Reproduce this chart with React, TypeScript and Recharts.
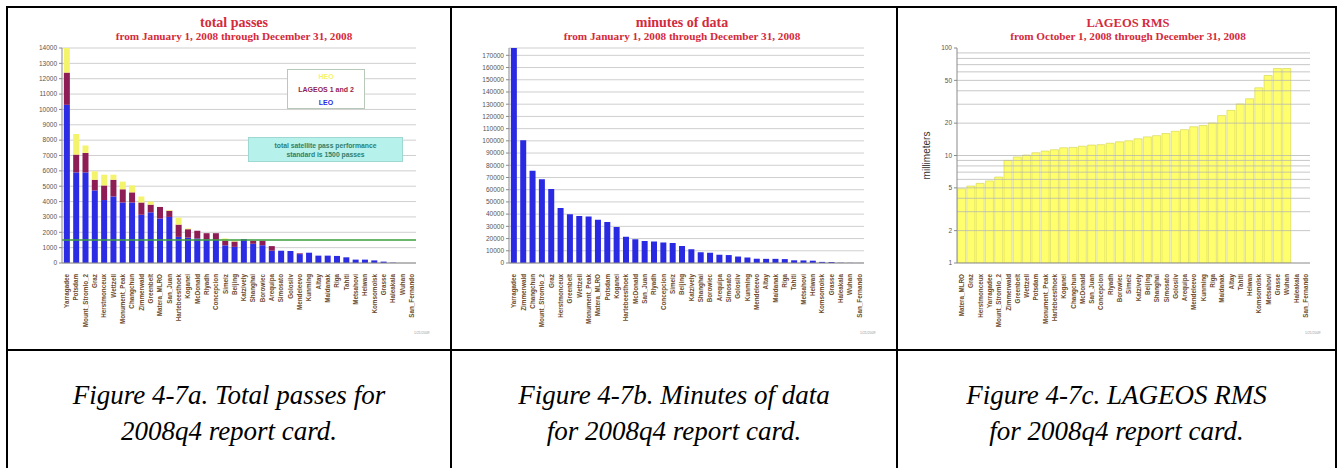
import React from "react";
import { BarChart, Bar, XAxis, YAxis, CartesianGrid, ReferenceLine, Legend } from "recharts";

// ---------- Figure 4-7a: total passes ----------
const passStations = [
  "Yarragadee", "Potsdam", "Mount_Stromlo_2", "Graz", "Herstmonceux", "Wettzell", "Monument_Peak", "Changchun",
  "Zimmerwald", "Greenbelt", "Matera_MLRO", "San_Juan", "Hartebeesthoek", "Koganei", "McDonald", "Riyadh",
  "Concepcion", "Simeiz", "Beijing", "Katzively", "Shanghai", "Borowiec", "Arequipa", "Simosato",
  "Golosiiv", "Mendeleevo", "Kunming", "Altay", "Maidanak", "Riga", "Tahiti", "Metsahovi",
  "Helwan", "Komsomolsk", "Grasse", "Haleakala", "Wuhan", "San_Fernando",
];
const leoPasses = [
  10300, 5900, 5900, 4730, 4100, 4330, 3940, 3940, 3140, 3300, 2900, 3000, 1700, 1650, 1600, 1550,
  1500, 1150, 1050, 1550, 1250, 1150, 800, 800, 780, 580, 670, 480, 480, 460, 370, 220,
  220, 170, 90, 20, 0, 0,
];
const lageosPasses = [
  2100, 1160, 1270, 690, 950, 1090, 860, 660, 800, 500, 750, 400, 800, 550, 500, 390,
  440, 300, 350, 0, 200, 300, 300, 0, 0, 50, 0, 0, 0, 0, 0, 0,
  0, 0, 0, 0, 0, 0,
];
const heoPasses = [
  1600, 1340, 480, 550, 700, 330, 500, 450, 390, 200, 0, 50, 450, 50, 0, 0,
  0, 150, 50, 0, 0, 0, 0, 0, 0, 0, 0, 0, 0, 0, 0, 0,
  0, 0, 0, 0, 0, 0,
];
const passTicks = [0, 1000, 2000, 3000, 4000, 5000, 6000, 7000, 8000, 9000, 10000, 11000, 12000, 13000, 14000];
const passStandard = 1500;
const passTitle = "total passes";
const passSubtitle = "from January 1, 2008 through December 31, 2008";
const passNoteLines = ["total satellite pass performance", "standard is 1500 passes"];

// ---------- Figure 4-7b: minutes of data ----------
const minuteStations = [
  "Yarragadee", "Zimmerwald", "Changchun", "Mount_Stromlo_2", "Graz", "Herstmonceux", "Greenbelt", "Wettzell",
  "Monument_Peak", "Matera_MLRO", "Potsdam", "Koganei", "Hartebeesthoek", "McDonald", "San_Juan", "Riyadh",
  "Concepcion", "Simeiz", "Beijing", "Katzively", "Shanghai", "Borowiec", "Arequipa", "Simosato",
  "Golosiiv", "Kunming", "Mendeleevo", "Altay", "Maidanak", "Riga", "Tahiti", "Metsahovi",
  "Helwan", "Komsomolsk", "Grasse", "Haleakala", "Wuhan", "San_Fernando",
];
const minutesOfData = [
  176000, 100500, 75600, 68500, 60500, 45000, 40000, 38500, 38000, 35500, 33500, 29500, 21500, 19500, 18000, 17500,
  16800, 16300, 14000, 11200, 8800, 8400, 6800, 6500, 5300, 4500, 3500, 3400, 3400, 3200, 2200, 2100,
  1900, 900, 800, 200, 100, 50,
];
const minuteTicks = [
  0, 10000, 20000, 30000, 40000, 50000, 60000, 70000, 80000, 90000, 100000, 110000, 120000, 130000, 140000,
  150000, 160000, 170000,
];
const minuteTitle = "minutes of data";
const minuteSubtitle = "from January 1, 2008 through December 31, 2008";

// ---------- Figure 4-7c: LAGEOS RMS ----------
const rmsStations = [
  "Matera_MLRO", "Graz", "Herstmonceux", "Yarragadee", "Mount_Stromlo_2", "Zimmerwald", "Greenbelt", "Wettzell",
  "Potsdam", "Monument_Peak", "Hartebeesthoek", "Koganei", "Changchun", "McDonald", "San_Juan", "Concepcion",
  "Riyadh", "Borowiec", "Simeiz", "Katzively", "Beijing", "Shanghai", "Simosato", "Golosiiv",
  "Arequipa", "Mendeleevo", "Kunming", "Riga", "Maidanak", "Altay", "Tahiti", "Helwan",
  "Komsomolsk", "Metsahovi", "Grasse", "Wuhan", "Haleakala", "San_Fernando",
];
const lageosRms = [
  4.9, 5.2, 5.5, 5.8, 6.3, 9.0, 9.7, 10.1, 10.6, 11.0, 11.3, 11.8, 11.9, 12.2, 12.5, 12.6,
  13.0, 13.4, 13.7, 14.3, 14.9, 15.3, 16.0, 16.8, 17.4, 18.5, 19.0, 20.1, 23.5, 26.3, 30.2, 33.7,
  42.6, 55.5, 64.5, 64.5, null, null,
];
const rmsTicks = [1, 2, 5, 10, 20, 50, 100];
const rmsGridValues = [2, 3, 4, 5, 6, 7, 8, 9, 10, 20, 30, 40, 50, 60, 70, 80, 90];
const rmsTitle = "LAGEOS RMS";
const rmsSubtitle = "from October 1, 2008 through December 31, 2008";

const captions = [
  ["Figure 4-7a. Total passes for", "2008q4 report card."],
  ["Figure 4-7b. Minutes of data", "for 2008q4 report card."],
  ["Figure 4-7c. LAGEOS RMS", "for 2008q4 report card."],
];

const passData = passStations.map((name, i) => ({
  name,
  leo: leoPasses[i],
  lageos: lageosPasses[i],
  heo: heoPasses[i],
}));
const minuteData = minuteStations.map((name, i) => ({ name, minutes: minutesOfData[i] }));
const rmsData = rmsStations.map((name, i) => ({ name, rms: lageosRms[i] }));

const TITLE_RED = "#d42a3c";
const AXIS_GRAY = "#8a8a8a";

const StationTick = (props: any) => {
  const { x, y, payload } = props;
  const ty = y + 3;
  return (
    <text
      x={x}
      y={ty}
      transform={`rotate(-90, ${x}, ${ty})`}
      textAnchor="end"
      dominantBaseline="central"
      fontSize={6.3}
      fontWeight="bold"
      fontFamily="Arial, 'Liberation Sans', sans-serif"
      fill="#6e4c2c"
    >
      {payload.value}
    </text>
  );
};

const yTickStyle = { fontSize: 6.5, fill: "#555", fontFamily: "Arial, 'Liberation Sans', sans-serif" };
const blank = () => "";
const legendOrder = ["HEO", "LAGEOS 1 and 2", "LEO"];

const PassLegend = (props: any) => {
  const payload = (props.payload || [])
    .slice()
    .sort((a: any, b: any) => legendOrder.indexOf(a.value) - legendOrder.indexOf(b.value));
  return (
    <div
      style={{
        width: 78,
        height: 40,
        background: "#fff",
        border: "1px solid #b9c9b9",
        boxSizing: "border-box",
        fontFamily: "Arial, 'Liberation Sans', sans-serif",
        fontWeight: "bold",
        fontSize: 7,
        textAlign: "center",
        paddingTop: 0,
      }}
    >
      {payload.map((p: any) => (
        <div key={p.value} style={{ color: p.color, height: 13, lineHeight: "13px" }}>
          {p.value}
        </div>
      ))}
    </div>
  );
};

const ChartTitle = ({ center, title, subtitle, titleSize }: any) => (
  <div
    style={{
      position: "absolute",
      left: center - 160,
      width: 320,
      top: 16,
      textAlign: "center",
      color: TITLE_RED,
      fontFamily: "'Liberation Serif', 'Times New Roman', serif",
      fontWeight: "bold",
      whiteSpace: "nowrap",
    }}
  >
    <div style={{ fontSize: titleSize, lineHeight: "14px" }}>{title}</div>
    <div style={{ fontSize: 11.2, lineHeight: "12px" }}>{subtitle}</div>
  </div>
);

const TinyNote = ({ left }: any) => (
  <div
    style={{
      position: "absolute",
      left,
      top: 331,
      fontSize: 3.5,
      color: "#999",
      fontFamily: "Arial, sans-serif",
    }}
  >
    1/21/2009
  </div>
);

const RmsAxisLabel = (props: any) => {
  const vb = props.viewBox || {};
  const x = vb.x + 28;
  const y = vb.y + vb.height / 2;
  return (
    <text
      x={x}
      y={y}
      transform={`rotate(-90, ${x}, ${y})`}
      textAnchor="middle"
      dominantBaseline="central"
      fontSize={10}
      fill="#333"
      fontFamily="Arial, 'Liberation Sans', sans-serif"
    >
      millimeters
    </text>
  );
};

const line = (style: any) => <div style={{ position: "absolute", background: "#000", ...style }} />;

export default function App() {
  return (
    <div
      style={{
        position: "absolute",
        left: 0,
        top: 0,
        width: 1338,
        height: 468,
        overflow: "hidden",
        background: "#fff",
      }}
    >
      {/* Chart 1 */}
      <div style={{ position: "absolute", left: 8, top: 8 }}>
        <BarChart
          width={442}
          height={341}
          data={passData}
          margin={{ top: 40, right: 34, bottom: 16, left: 0 }}
          barCategoryGap="20%"
        >
          <CartesianGrid vertical={false} stroke="#cfcfcf" />
          <XAxis
            dataKey="name"
            interval={0}
            height={70}
            tick={<StationTick />}
            tickLine={false}
            axisLine={{ stroke: AXIS_GRAY }}
          />
          <XAxis
            xAxisId="top"
            orientation="top"
            dataKey="name"
            interval={0}
            height={0}
            tickFormatter={blank}
            tickSize={2}
            tickLine={{ stroke: "#666" }}
            axisLine={{ stroke: "#666" }}
          />
          <YAxis
            width={54}
            domain={[0, 14000]}
            ticks={passTicks}
            interval={0}
            tick={yTickStyle}
            tickSize={3}
            tickLine={{ stroke: AXIS_GRAY }}
            axisLine={{ stroke: AXIS_GRAY }}
          />
          <YAxis
            yAxisId="right"
            orientation="right"
            width={0}
            domain={[0, 14000]}
            ticks={passTicks}
            tickFormatter={blank}
            tickSize={2}
            tickLine={{ stroke: "#666" }}
            axisLine={{ stroke: "#666" }}
          />
          <Bar dataKey="leo" name="LEO" stackId="p" fill="#2c2ce4" isAnimationActive={false} />
          <Bar dataKey="lageos" name="LAGEOS 1 and 2" stackId="p" fill="#8f1d55" isAnimationActive={false} />
          <Bar dataKey="heo" name="HEO" stackId="p" fill="#f4f46c" isAnimationActive={false} />
          <ReferenceLine y={passStandard} stroke="#3c9e3c" strokeWidth={1.5} />
          <Legend
            layout="vertical"
            align="center"
            verticalAlign="middle"
            content={<PassLegend />}
            wrapperStyle={{ left: 279, top: 61, width: 78, height: 40 }}
          />
        </BarChart>
      </div>
      <ChartTitle center={234} title={passTitle} subtitle={passSubtitle} titleSize={14} />
      <div
        style={{
          position: "absolute",
          left: 248,
          top: 137,
          width: 155,
          height: 25,
          boxSizing: "border-box",
          background: "#b6f1ec",
          border: "1px solid #9fd8d2",
          color: "#2f806c",
          fontFamily: "Arial, 'Liberation Sans', sans-serif",
          fontWeight: "bold",
          fontSize: 6.8,
          textAlign: "center",
          paddingTop: 3,
          lineHeight: "9px",
        }}
      >
        <div>{passNoteLines[0]}</div>
        <div>{passNoteLines[1]}</div>
      </div>
      <TinyNote left={414} />

      {/* Chart 2 */}
      <div style={{ position: "absolute", left: 452, top: 8 }}>
        <BarChart
          width={444}
          height={341}
          data={minuteData}
          margin={{ top: 40, right: 32, bottom: 16, left: 0 }}
          barCategoryGap="20%"
        >
          <CartesianGrid vertical={false} stroke="#cfcfcf" />
          <XAxis
            dataKey="name"
            interval={0}
            height={70}
            tick={<StationTick />}
            tickLine={false}
            axisLine={{ stroke: AXIS_GRAY }}
          />
          <XAxis
            xAxisId="top"
            orientation="top"
            dataKey="name"
            interval={0}
            height={0}
            tickFormatter={blank}
            tickSize={2}
            tickLine={{ stroke: "#666" }}
            axisLine={{ stroke: "#666" }}
          />
          <YAxis
            width={57}
            domain={[0, 176000]}
            ticks={minuteTicks}
            interval={0}
            allowDataOverflow
            tick={yTickStyle}
            tickSize={3}
            tickLine={{ stroke: AXIS_GRAY }}
            axisLine={{ stroke: AXIS_GRAY }}
          />
          <YAxis
            yAxisId="right"
            orientation="right"
            width={0}
            domain={[0, 176000]}
            ticks={minuteTicks}
            tickFormatter={blank}
            tickSize={2}
            tickLine={{ stroke: "#666" }}
            axisLine={{ stroke: "#666" }}
          />
          <Bar dataKey="minutes" fill="#2a2ae2" isAnimationActive={false} />
        </BarChart>
      </div>
      <ChartTitle center={682} title={minuteTitle} subtitle={minuteSubtitle} titleSize={14} />
      <TinyNote left={860} />

      {/* Chart 3 */}
      <div style={{ position: "absolute", left: 898, top: 8 }}>
        <BarChart
          width={437}
          height={341}
          data={rmsData}
          margin={{ top: 40, right: 25, bottom: 16, left: 0 }}
          barCategoryGap="6%"
        >
          <XAxis
            dataKey="name"
            interval={0}
            height={70}
            tick={<StationTick />}
            tickLine={false}
            axisLine={{ stroke: AXIS_GRAY }}
          />
          <XAxis
            xAxisId="top"
            orientation="top"
            dataKey="name"
            interval={0}
            height={0}
            tickFormatter={blank}
            tickSize={2}
            tickLine={{ stroke: "#666" }}
            axisLine={{ stroke: "#666" }}
          />
          <YAxis
            width={59}
            scale="log"
            domain={[1, 100]}
            ticks={rmsTicks}
            interval={0}
            allowDataOverflow
            tick={yTickStyle}
            tickSize={3}
            tickLine={{ stroke: AXIS_GRAY }}
            axisLine={{ stroke: AXIS_GRAY }}
            label={{ content: <RmsAxisLabel /> }}
          />
          <YAxis
            yAxisId="right"
            orientation="right"
            width={0}
            scale="log"
            domain={[1, 100]}
            ticks={rmsTicks}
            tickFormatter={blank}
            tickSize={2}
            tickLine={{ stroke: "#666" }}
            axisLine={{ stroke: "#666" }}
          />
          <Bar dataKey="rms" fill="#ffff6e" stroke="#d2d24a" strokeWidth={0.6} isAnimationActive={false} />
          {rmsGridValues.map((v) => (
            <ReferenceLine key={v} y={v} stroke="#b4b4b4" strokeOpacity={0.75} />
          ))}
        </BarChart>
      </div>
      <ChartTitle center={1128} title={rmsTitle} subtitle={rmsSubtitle} titleSize={12.5} />
      <TinyNote left={1305} />

      {/* table borders */}
      {line({ left: 6, top: 6, width: 1331, height: 2 })}
      {line({ left: 6, top: 349, width: 1331, height: 2 })}
      {line({ left: 6, top: 6, width: 2, height: 462 })}
      {line({ left: 450, top: 6, width: 2, height: 462 })}
      {line({ left: 896, top: 6, width: 2, height: 462 })}
      {line({ left: 1335, top: 6, width: 2, height: 462 })}

      {/* captions */}
      {captions.map((c, i) => {
        const cells = [
          [8, 442],
          [452, 444],
          [898, 437],
        ];
        return (
          <div
            key={i}
            style={{
              position: "absolute",
              left: cells[i][0],
              width: cells[i][1],
              top: 377,
              textAlign: "center",
              fontFamily: "'Liberation Serif', 'Times New Roman', serif",
              fontStyle: "italic",
              fontSize: 27,
              lineHeight: "36px",
              color: "#000",
            }}
          >
            <div>{c[0]}</div>
            <div>{c[1]}</div>
          </div>
        );
      })}
    </div>
  );
}
